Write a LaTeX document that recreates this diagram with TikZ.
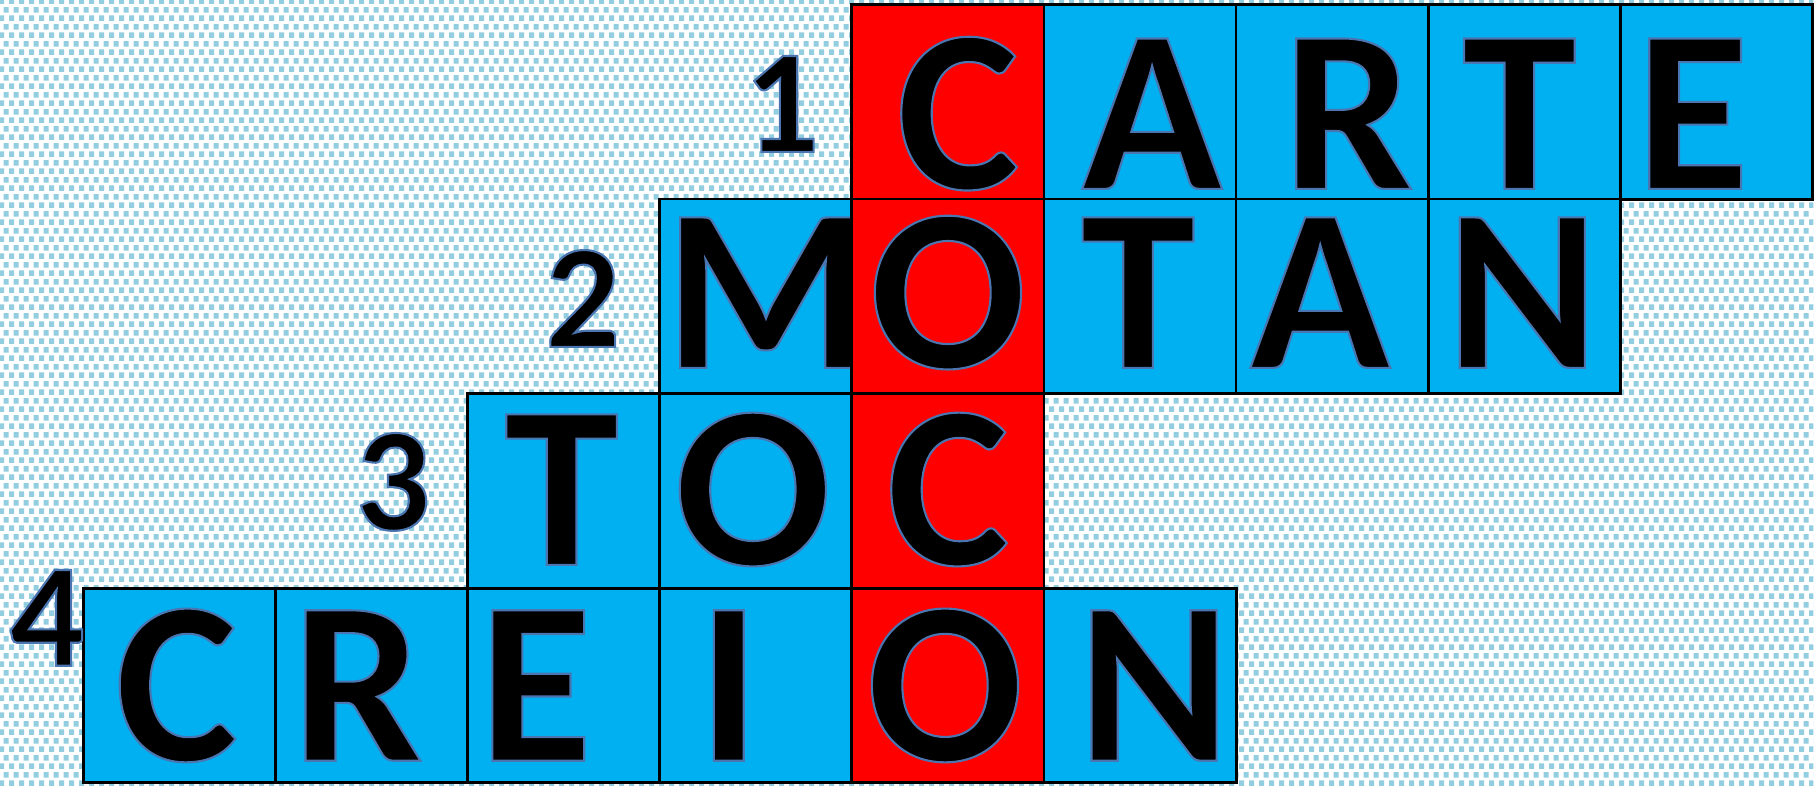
\documentclass[tikz,border=0pt]{standalone}
\usepackage{fontspec}
\setmainfont{Carlito}
\usetikzlibrary{patterns}
\definecolor{cellblue}{RGB}{0,176,240}
\definecolor{cellred}{RGB}{255,0,0}
\definecolor{dotblue}{RGB}{146,205,224}
\pgfdeclarepatternformonly{squaredots}{\pgfpointorigin}{\pgfpoint{2.85pt}{4.8pt}}{\pgfpoint{2.85pt}{4.8pt}}{%
  \pgfpathrectangle{\pgfpointorigin}{\pgfpoint{1.6pt}{1.6pt}}%
  \pgfpathrectangle{\pgfpoint{1.42pt}{2.4pt}}{\pgfpoint{1.6pt}{1.6pt}}%
  \pgfusepath{fill}}
\newcommand{\outlined}[1]{\special{pdf:literal 2 Tr 0.6 w 0.29 0.46 0.69 RG}#1\special{pdf:literal 0 Tr}}
\tikzset{cell/.style={draw, line width=0.8pt, fill=cellblue, minimum width=1.922cm, minimum height=1.946cm, inner sep=0pt},
  key/.style={cell, fill=cellred},
  letter/.style={anchor=base, inner sep=0pt, font=\bfseries\fontsize{66}{66}\selectfont},
  clue/.style={anchor=base, inner sep=0pt, font=\bfseries\fontsize{42}{42}\selectfont}}

\begin{document}
\begin{tikzpicture}[x=0.01cm, y=-0.01cm]
  % dotted paper
  \fill[white] (0,0) rectangle (1814,786);
  \fill[pattern=squaredots, pattern color=dotblue] (0,0) rectangle (1814,786);
  % grid rows: row/baseline/{column/letter/shift}
  \foreach \r/\b/\word in {1/189/{4/C/10,5/A/12,6/R/16,7/T/-5,8/E/-24},
                           2/368/{3/M/10,4/O/0,5/T/-2,6/A/-12,7/N/-2},
                           3/565/{2/T/-2,3/O/-3,4/C/0},
                           4/761/{0/C/-3,1/R/-14,2/E/-28,3/I/-27,4/O/-3,5/N/14}}{
    \foreach \c/\l/\dx in \word{
      \ifnum\c=4
        \node[key] (c\r\c) at ({179.4+192.2*\c},{101.9+194.6*(\r-1)}) {};
      \else
        \node[cell] (c\r\c) at ({179.4+192.2*\c},{101.9+194.6*(\r-1)}) {};
      \fi
      \node[letter] (l\r\c) at ({179.4+192.2*\c+\dx},\b) {\outlined{\l}};
    }
  }
  % clue numbers
  \node[clue] (n1) at (782,152) {\outlined{1}};
  \node[clue] (n2) at (583,347) {\outlined{2}};
  \node[clue] (n3) at (393,530) {\outlined{3}};
  \node[clue] (n4) at (47,666) {\outlined{4}};
\end{tikzpicture}
\end{document}
